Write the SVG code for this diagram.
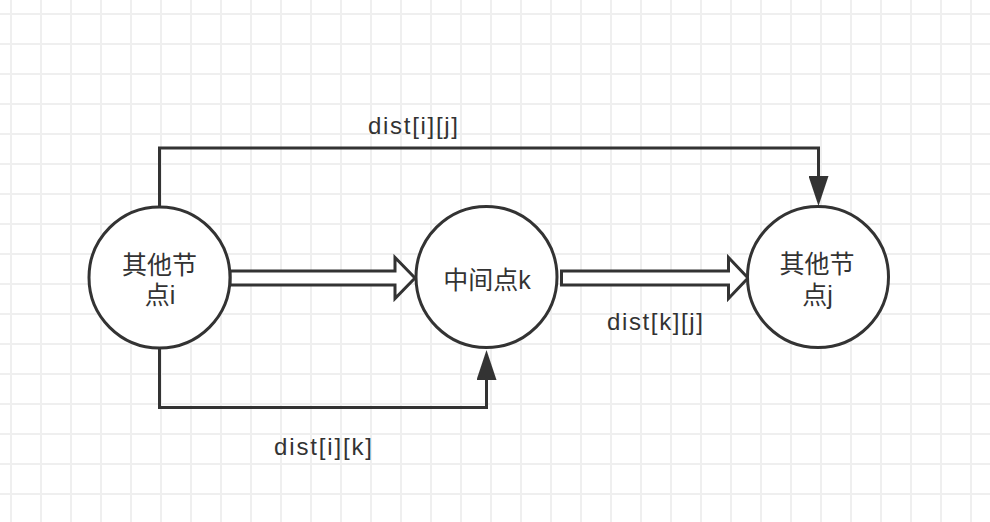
<svg xmlns="http://www.w3.org/2000/svg" width="990" height="522" viewBox="0 0 990 522">
  <style>
    .node { fill: #ffffff; stroke: #333333; stroke-width: 3; }
    .conn { fill: none; stroke: #333333; stroke-width: 3; }
    .fat { fill: #ffffff; stroke: #333333; stroke-width: 3; stroke-linejoin: miter; }
    .ntext { font-family: "Liberation Sans", "Noto Sans CJK SC", sans-serif; font-size: 25px; fill: #333333; text-anchor: middle; }
    .label { font-family: "Liberation Sans", "Noto Sans CJK SC", sans-serif; font-size: 24px; fill: #333333; }
  </style>
  <defs>
    <pattern id="grid" width="30" height="30" patternUnits="userSpaceOnUse" x="-4" y="-1">
      <path d="M15 0 V30 M0 15 H30" stroke="#efefef" stroke-width="2" fill="none"/>
    </pattern>
    <marker id="arrow" markerUnits="userSpaceOnUse" markerWidth="30" markerHeight="20" refX="0" refY="10" orient="auto" viewBox="0 0 30 20">
      <path d="M0 0 L30 10 L0 20 Z" fill="#333333"/>
    </marker>
  </defs>
  <rect width="990" height="522" fill="#ffffff"/>
  <rect width="990" height="522" fill="url(#grid)"/>

  <g id="connectors">
    <path id="edge-i-j" class="conn" d="M159.5 206 L159.5 148 L818.5 148 L818.5 176" marker-end="url(#arrow)"/>
    <path id="edge-i-k" class="conn" d="M159.5 348 L159.5 407.5 L486.5 407.5 L486.5 380" marker-end="url(#arrow)"/>
    <path id="fat-i-k" class="fat" d="M230 271 L395 271 L395 257.5 L415 278 L395 298.5 L395 285 L230 285 Z"/>
    <path id="fat-k-j" class="fat" d="M561.5 271 L728.5 271 L728.5 257.5 L748 278 L728.5 298.5 L728.5 285 L561.5 285 Z"/>
    <text class="label" x="368" y="134" textLength="90" lengthAdjust="spacing">dist[i][j]</text>
    <text class="label" x="274" y="455" textLength="98" lengthAdjust="spacing">dist[i][k]</text>
    <text class="label" x="607" y="330" textLength="96" lengthAdjust="spacing">dist[k][j]</text>
  </g>

  <g id="node-i">
    <circle class="node" cx="159.5" cy="277.5" r="70.5"/>
    <text class="ntext" x="159.5" y="274">其他节</text>
    <text class="ntext" x="160" y="304">点i</text>
  </g>

  <g id="node-k">
    <circle class="node" cx="486.5" cy="277" r="70.5"/>
    <text class="ntext" x="487" y="289">中间点k</text>
  </g>

  <g id="node-j">
    <circle class="node" cx="818" cy="277" r="70.5"/>
    <text class="ntext" x="817" y="273">其他节</text>
    <text class="ntext" x="817.5" y="304">点j</text>
  </g>
</svg>
